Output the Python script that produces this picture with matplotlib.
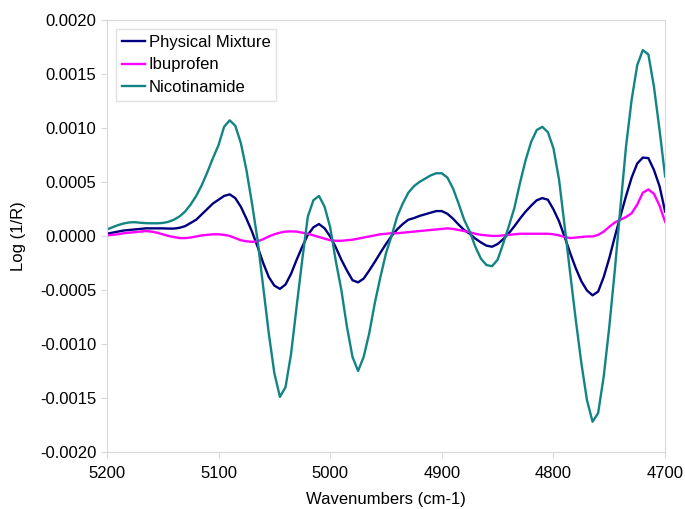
import matplotlib.pyplot as plt

plt.rcParams['font.family'] = ['Liberation Sans', 'DejaVu Sans']

wavenumbers = list(range(5200, 4695, -5))

# values in units of 1e-4
physical_mixture = [
    0.2, 0.3, 0.4, 0.5, 0.55, 0.6, 0.65, 0.7, 0.7, 0.7,
    0.7, 0.68, 0.68, 0.75, 0.9, 1.2, 1.5, 2.0, 2.5, 3.0,
    3.35, 3.7, 3.85, 3.5, 2.7, 1.6, 0.4, -1.0, -2.5, -3.8,
    -4.6, -4.9, -4.5, -3.5, -2.2, -1.0, 0.1, 0.8, 1.1, 0.7,
    -0.05, -1.05, -2.2, -3.2, -4.1, -4.3, -3.95, -3.2, -2.4, -1.55,
    -0.75, 0.0, 0.6, 1.1, 1.5, 1.65, 1.85, 2.0, 2.15, 2.3,
    2.3, 2.05, 1.6, 1.05, 0.55, 0.2, -0.25, -0.6, -0.9, -1.0,
    -0.75, -0.3, 0.25, 0.9, 1.6, 2.25, 2.8, 3.3, 3.5, 3.35,
    2.45, 1.35, -0.1, -1.6, -3.0, -4.2, -5.05, -5.5, -5.15, -3.8,
    -2.05, -0.05, 1.85, 3.7, 5.4, 6.7, 7.25, 7.2, 6.1, 4.6,
    2.25,
]
ibuprofen = [
    0.05, 0.1, 0.15, 0.25, 0.3, 0.35, 0.4, 0.45, 0.4, 0.3,
    0.15, 0.0, -0.1, -0.2, -0.2, -0.15, -0.05, 0.05, 0.1, 0.15,
    0.15, 0.1, 0.0, -0.2, -0.4, -0.5, -0.55, -0.5, -0.3, -0.05,
    0.15, 0.3, 0.4, 0.42, 0.4, 0.3, 0.2, 0.05, -0.1, -0.25,
    -0.4, -0.45, -0.45, -0.4, -0.35, -0.25, -0.15, -0.05, 0.05, 0.15,
    0.2, 0.25, 0.25, 0.3, 0.35, 0.4, 0.45, 0.5, 0.55, 0.6,
    0.65, 0.7, 0.65, 0.55, 0.45, 0.35, 0.2, 0.1, 0.05, 0.0,
    0.0, 0.05, 0.1, 0.15, 0.2, 0.2, 0.2, 0.2, 0.2, 0.2,
    0.15, 0.05, -0.1, -0.2, -0.15, -0.1, -0.05, -0.05, 0.1, 0.4,
    0.85, 1.25, 1.5, 1.75, 2.1, 2.9, 4.0, 4.3, 3.9, 2.8,
    1.3,
]
nicotinamide = [
    0.6, 0.8, 1.0, 1.15, 1.25, 1.27, 1.22, 1.18, 1.17, 1.17,
    1.2, 1.3, 1.5, 1.8, 2.25, 2.9, 3.7, 4.7, 5.9, 7.2,
    8.4, 10.1, 10.7, 10.2, 8.6, 6.1, 3.0, -0.4, -4.7, -9.0,
    -12.7, -14.9, -14.0, -10.9, -6.5, -2.2, 1.8, 3.3, 3.7, 2.7,
    0.8, -2.3, -5.0, -8.4, -11.2, -12.5, -11.2, -9.0, -6.2, -3.8,
    -1.6, 0.0, 1.8, 3.0, 4.0, 4.6, 5.0, 5.3, 5.6, 5.8,
    5.8, 5.4, 4.4, 3.0, 1.5, 0.4, -1.0, -2.1, -2.7, -2.8,
    -2.2, -0.7, 0.9, 2.6, 4.9, 7.0, 8.7, 9.8, 10.1, 9.6,
    8.1, 5.2, 0.9, -3.5, -7.8, -11.8, -15.2, -17.2, -16.4, -13.0,
    -8.4, -3.1, 2.7, 8.3, 12.6, 15.8, 17.2, 16.8, 13.8, 9.8,
    5.5,
]

scale = 1e-4
fig = plt.figure(figsize=(6.85, 5.09), dpi=100)
ax = fig.add_axes([0.156, 0.112, 0.815, 0.849])

ax.plot(wavenumbers, [v * scale for v in physical_mixture], color='#000080', lw=1.7, label='Physical Mixture')
ax.plot(wavenumbers, [v * scale for v in ibuprofen], color='#ff00ff', lw=1.7, label='Ibuprofen')
ax.plot(wavenumbers, [v * scale for v in nicotinamide], color='#138484', lw=1.7, label='Nicotinamide')

ax.set_xlim(5200, 4700)
ax.set_ylim(-0.002, 0.002)
ax.set_xticks([5200, 5100, 5000, 4900, 4800, 4700])
ax.set_yticks([-0.002, -0.0015, -0.001, -0.0005, 0, 0.0005, 0.001, 0.0015, 0.002])
ax.set_yticklabels([f'{t:.4f}' for t in ax.get_yticks()])

for s in ax.spines.values():
    s.set_color('#d9d9d9')
ax.tick_params(colors='#d9d9d9', labelcolor='black', labelsize=12, length=4, direction='out')
ax.tick_params(axis='x', pad=6)

ax.set_xlabel('Wavenumbers (cm-1)', fontsize=12, labelpad=8)
ax.set_ylabel('Log (1/R)', fontsize=12, labelpad=10)

leg = ax.legend(loc='upper left', fontsize=12, fancybox=False, handlelength=1.4,
                handletextpad=0.2, labelspacing=0.45, borderaxespad=0.55, borderpad=0.35)
leg.get_frame().set_edgecolor('#d9d9d9')

plt.savefig('out.png', dpi=100)
